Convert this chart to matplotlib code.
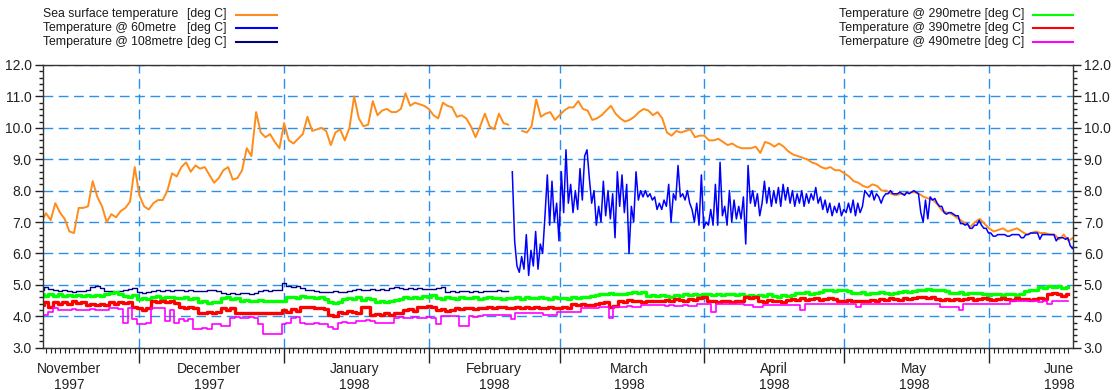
import numpy as np
import pandas as pd
import matplotlib
matplotlib.use("Agg")
import matplotlib.pyplot as plt
import matplotlib.dates as mdates
from matplotlib.lines import Line2D
from matplotlib.ticker import MultipleLocator, FormatStrFormatter

plt.rcParams['font.family'] = ['Liberation Sans', 'DejaVu Sans']

# daily values from 10 Nov 1997
start = pd.Timestamp('1997-11-10')
nan = np.nan

# Sea surface temperature (daily)
sst = [
    7.0, 7.28, 7.06, 7.6, 7.3, 7.1, 6.7, 6.65, 7.45, 7.45,
    7.5, 8.3, 7.8, 7.5, 7.0, 7.25, 7.15, 7.35, 7.45, 7.65,
    8.75, 7.85, 7.5, 7.4, 7.6, 7.7, 7.7, 8.0, 8.55, 8.45,
    8.75, 8.9, 8.6, 8.8, 8.7, 8.75, 8.5, 8.25, 8.4, 8.65,
    8.75, 8.35, 8.4, 8.65, 9.35, 9.1, 10.5, 9.85, 9.7, 9.8,
    9.55, 9.35, 10.15, 9.6, 9.5, 9.65, 9.8, 10.35, 9.9, 9.95,
    10.0, 9.9, 9.45, 9.85, 9.95, 9.6, 10.0, 11.0, 10.3, 10.05,
    10.1, 10.85, 10.4, 10.55, 10.6, 10.5, 10.5, 10.6, 11.1, 10.7,
    10.8, 10.75, 10.7, 10.6, 10.4, 10.3, 10.8, 10.7, 10.65, 10.35,
    10.4, 10.3, 10.05, 9.7, 10.05, 10.45, 10.05, 9.95, 10.45, 10.15,
    10.1, nan, nan, 9.9, 9.85, 10.05, 10.9, 10.35, 10.45, 10.5,
    10.25, 10.4, 10.55, 10.65, 10.65, 10.85, 10.6, 10.55, 10.25, 10.3,
    10.4, 10.55, 10.7, 10.45, 10.3, 10.2, 10.25, 10.35, 10.5, 10.6,
    10.55, 10.4, 10.5, 10.3, 9.85, 9.75, 9.9, 9.85, 9.9, 9.95,
    9.7, 9.75, 9.75, 9.6, 9.6, 9.65, 9.55, 9.45, 9.5, 9.4,
    9.35, 9.35, 9.35, 9.4, 9.2, 9.55, 9.5, 9.4, 9.5, 9.4,
    9.25, 9.15, 9.1, 9.05, 9.0, 8.9, 8.85, 8.75, 8.7, 8.75,
    8.65, 8.65, 8.55, 8.45, 8.3, 8.25, 8.15, 8.1, 8.2, 8.15,
    8.0, 8.0, 7.9, 7.85, 7.9, 7.9, 7.95, 7.95, 7.9, 7.8,
    7.75, 7.7, 7.55, 7.35, 7.3, 7.25, 7.15, 7.05, 6.95, 6.85,
    7.0, 7.1, 6.95, 6.8, 6.7, 6.75, 6.8, 6.7, 6.75, 6.8,
    6.7, 6.6, 6.65, 6.7, 6.65, 6.65, 6.6, 6.6, 6.45, 6.6,
    6.4, 6.5,
]

# Temperature @ 60metre (12-hourly, from 18 Feb 1998)
t60 = [
    8.6, 6.4, 5.6, 5.4, 5.9, 5.5, 6.6, 5.3, 6.1, 5.6, 6.7, 5.5, 6.3,
    6.0, 7.2, 8.5, 6.9, 8.3, 7.0, 7.6, 6.4, 8.6, 7.3, 9.3, 7.6,
    8.2, 7.3, 8.0, 7.4, 8.7, 7.7, 9.1, 9.3, 8.4, 7.6, 8.0, 6.9, 7.5, 7.0, 8.3,
    7.2, 8.0, 7.1, 7.9, 6.5, 8.6, 7.5, 8.5, 7.3, 8.2, 6.0, 7.5, 7.0, 8.6, 7.7,
    8.0, 7.8, 8.0, 7.8, 7.9, 7.7, 7.8, 7.4, 7.6, 7.4, 7.7, 7.5, 8.2, 7.0, 7.9,
    7.7, 8.8, 7.8, 7.9, 7.7, 8.0, 7.6, 7.4, 7.0, 7.6, 6.9, 8.5, 6.8, 7.0, 6.9,
    7.4, 6.9, 8.2, 6.9, 8.9, 7.2, 7.5, 6.9, 8.0, 7.0, 7.7, 7.1, 7.5, 7.1, 7.8,
    6.3, 8.8, 7.6, 8.0, 7.5, 7.9, 7.2, 7.6, 8.3, 7.6, 8.1, 7.5, 8.0, 7.6, 8.1,
    7.5, 8.2, 7.7, 8.1, 7.6, 8.0, 7.5, 7.9, 7.6, 8.0, 7.5, 7.9, 7.6, 7.9, 7.7,
    8.1, 7.6, 7.8, 7.4, 7.7, 7.3, 7.6, 7.2, 7.5, 7.3, 7.6, 7.2, 7.4, 7.3, 7.6,
    7.3, 7.7, 7.2, 7.6, 7.3, 7.5, 8.0, 7.9, 7.8, 8.0, 7.7, 7.9, 7.8, 7.6, 7.8,
    7.9, 7.9, 8.0, 7.9, 7.9, 7.9, 7.95, 7.9, 7.85, 7.95, 7.9, 7.95, 8.0, 7.95, 7.9,
    7.3, 7.0, 7.7, 7.1, 7.8, 7.7, 7.75, 7.6, 7.5, 7.5, 7.3, 7.25, 7.3, 7.3, 7.25,
    7.2, 7.2, 6.95, 6.95, 6.9, 6.95, 6.8, 6.8, 6.9, 6.9, 7.05, 6.9, 6.8, 6.8, 6.65,
    6.65, 6.55, 6.55, 6.6, 6.6, 6.6, 6.6, 6.55, 6.55, 6.6, 6.6, 6.6, 6.6, 6.5, 6.5,
    6.6, 6.6, 6.65, 6.65, 6.65, 6.65, 6.45, 6.6, 6.6, 6.6, 6.6, 6.6, 6.6, 6.4, 6.5,
    6.5, 6.5, 6.45, 6.5, 6.25, 6.15, 6.35,
]

# Temperature @ 108metre (daily, ends 18 Feb 1998)
t108 = [
    4.85, 4.92, 4.87, 4.85, 4.80, 4.83, 4.80, 4.78, 4.80, 4.80,
    4.85, 4.93, 4.95, 4.90, 4.82, 4.80, 4.78, 4.80, 4.83, 4.88,
    4.90, 4.78, 4.75, 4.78, 4.80, 4.83, 4.80, 4.85, 4.80, 4.83,
    4.85, 4.80, 4.83, 4.80, 4.82, 4.80, 4.83, 4.85, 4.80, 4.75,
    4.72, 4.73, 4.72, 4.75, 4.73, 4.72, 4.75, 4.82, 4.85, 4.80,
    4.83, 4.85, 5.05, 4.95, 4.92, 4.95, 4.90, 4.85, 4.83, 4.80,
    4.78, 4.76, 4.78, 4.80, 4.78, 4.76, 4.80, 4.85, 4.87, 4.83,
    4.85, 4.87, 4.85, 4.88, 4.85, 4.90, 4.93, 4.90, 4.88, 4.90,
    4.88, 4.90, 4.88, 4.86, 4.88, 4.90, 4.93, 4.78, 4.80, 4.78,
    4.80, 4.82, 4.78, 4.80, 4.78, 4.80, 4.82, 4.80, 4.83, 4.80,
    4.80,
]

# Temperature @ 290metre (daily)
t290 = [
    4.7, 4.65, 4.72, 4.65, 4.7, 4.65, 4.68, 4.63, 4.67, 4.65,
    4.68, 4.65, 4.67, 4.63, 4.7, 4.75, 4.78, 4.72, 4.65, 4.62,
    4.68, 4.55, 4.57, 4.55, 4.6, 4.63, 4.58, 4.62, 4.6, 4.58,
    4.57, 4.6, 4.55, 4.57, 4.45, 4.48, 4.43, 4.47, 4.45, 4.58,
    4.6, 4.55, 4.58, 4.5, 4.52, 4.5, 4.5, 4.52, 4.5, 4.5,
    4.5, 4.5, 4.5, 4.6, 4.62, 4.58, 4.63, 4.6, 4.62, 4.58,
    4.6, 4.55, 4.45, 4.43, 4.47, 4.55, 4.58, 4.55, 4.6, 4.53,
    4.57, 4.55, 4.45, 4.48, 4.45, 4.5, 4.52, 4.55, 4.6, 4.57,
    4.6, 4.58, 4.65, 4.62, 4.67, 4.58, 4.55, 4.6, 4.57, 4.55,
    4.6, 4.58, 4.57, 4.6, 4.55, 4.58, 4.6, 4.57, 4.58, 4.55,
    4.57, 4.58, 4.6, 4.55, 4.6, 4.58, 4.57, 4.6, 4.58, 4.55,
    4.6, 4.58, 4.57, 4.55, 4.6, 4.58, 4.62, 4.6, 4.65, 4.67,
    4.7, 4.72, 4.75, 4.7, 4.72, 4.7, 4.73, 4.78, 4.75, 4.77,
    4.65, 4.68, 4.63, 4.67, 4.65, 4.62, 4.67, 4.65, 4.7, 4.67,
    4.72, 4.68, 4.7, 4.72, 4.67, 4.7, 4.68, 4.72, 4.7, 4.67,
    4.7, 4.65, 4.68, 4.63, 4.67, 4.65, 4.7, 4.65, 4.62, 4.67,
    4.65, 4.68, 4.75, 4.73, 4.77, 4.72, 4.75, 4.78, 4.83, 4.85,
    4.8, 4.83, 4.85, 4.82, 4.75, 4.73, 4.77, 4.72, 4.75, 4.73,
    4.77, 4.75, 4.72, 4.75, 4.78, 4.8, 4.77, 4.8, 4.85, 4.83,
    4.87, 4.85, 4.83, 4.85, 4.82, 4.75, 4.73, 4.77, 4.72, 4.75,
    4.73, 4.75, 4.7, 4.68, 4.72, 4.7, 4.68, 4.72, 4.7, 4.68,
    4.7, 4.82, 4.85, 4.83, 4.93, 4.9, 4.95, 4.92, 4.95, 4.9,
    4.93,
]

# Temperature @ 390metre (daily)
t390 = [
    4.35, 4.45, 4.3, 4.45, 4.38, 4.45, 4.4, 4.5, 4.42, 4.47,
    4.35, 4.38, 4.35, 4.4, 4.35, 4.45, 4.4, 4.47, 4.43, 4.45,
    4.3, 4.25, 4.2, 4.25, 4.5, 4.47, 4.5, 4.45, 4.48, 4.43,
    4.3, 4.25, 4.28, 4.25, 4.1, 4.12, 4.15, 4.1, 4.15, 4.25,
    4.2, 4.25, 4.1, 4.12, 4.1, 4.1, 4.12, 4.1, 4.12, 4.1,
    4.1, 4.12, 4.2, 4.15, 4.22, 4.18, 4.3, 4.28, 4.3, 4.25,
    4.25, 4.22, 4.05, 4.02, 4.15, 4.12, 4.18, 4.15, 4.12, 4.3,
    4.28, 4.05, 4.08, 4.05, 4.1, 4.05, 4.1, 4.12, 4.2, 4.22,
    4.18, 4.3, 4.28, 4.32, 4.3, 4.2, 4.22, 4.18, 4.2, 4.25,
    4.22, 4.27, 4.25, 4.23, 4.27, 4.27, 4.3, 4.25, 4.28, 4.3,
    4.25, 4.27, 4.3, 4.25, 4.28, 4.25, 4.3, 4.27, 4.25, 4.3,
    4.27, 4.25, 4.28, 4.27, 4.38, 4.35, 4.4, 4.37, 4.35, 4.4,
    4.42, 4.45, 4.3, 4.32, 4.5, 4.47, 4.52, 4.48, 4.5, 4.47,
    4.5, 4.5, 4.5, 4.48, 4.53, 4.5, 4.55, 4.52, 4.5, 4.55,
    4.53, 4.57, 4.6, 4.48, 4.5, 4.47, 4.5, 4.48, 4.45, 4.5,
    4.48, 4.6, 4.58, 4.62, 4.5, 4.47, 4.52, 4.48, 4.5, 4.47,
    4.52, 4.55, 4.52, 4.57, 4.53, 4.55, 4.58, 4.53, 4.55, 4.57,
    4.55, 4.5, 4.5, 4.52, 4.5, 4.5, 4.5, 4.5, 4.52, 4.5,
    4.55, 4.52, 4.57, 4.55, 4.53, 4.57, 4.55, 4.58, 4.6, 4.62,
    4.58, 4.62, 4.55, 4.52, 4.55, 4.53, 4.55, 4.52, 4.55, 4.57,
    4.53, 4.55, 4.57, 4.55, 4.52, 4.55, 4.57, 4.55, 4.53, 4.57,
    4.55, 4.55, 4.53, 4.55, 4.58, 4.55, 4.7, 4.75, 4.72, 4.65,
    4.7,
]

# Temperature @ 490metre (daily)
t490 = [
    4.05, 4.03, 4.15, 4.25, 4.2, 4.2, 4.2, 4.22, 4.2, 4.2,
    4.2, 4.22, 4.2, 4.2, 4.2, 4.25, 4.25, 4.22, 3.8, 4.25,
    3.9, 3.75, 3.75, 3.8, 4.25, 4.25, 4.25, 3.85, 4.2, 3.8,
    3.9, 3.85, 3.9, 3.6, 3.6, 3.62, 3.6, 3.75, 3.75, 3.7,
    3.7, 3.95, 3.97, 3.95, 3.95, 3.97, 3.95, 3.75, 3.45, 3.45,
    3.45, 3.45, 3.75, 3.78, 3.95, 3.97, 3.8, 3.75, 3.75, 3.78,
    3.75, 3.75, 3.65, 3.6, 3.8, 3.82, 3.8, 3.8, 3.85, 3.85,
    3.87, 3.85, 3.8, 3.8, 3.8, 3.8, 3.95, 3.97, 3.95, 3.95,
    3.97, 3.95, 3.95, 3.97, 3.95, 3.75, 4.0, 4.0, 4.0, 4.02,
    3.7, 3.7, 4.0, 3.98, 4.0, 4.05, 4.05, 4.05, 4.05, 4.05,
    4.05, 3.9, 4.1, 4.1, 4.1, 4.1, 4.1, 4.1, 4.05, 4.05,
    4.05, 4.15, 4.15, 4.15, 4.15, 4.15, 4.27, 4.27, 4.25, 4.27,
    4.3, 4.3, 3.95, 4.3, 4.28, 4.3, 4.32, 4.3, 4.3, 4.35,
    4.35, 4.35, 4.35, 4.35, 4.33, 4.35, 4.32, 4.33, 4.35, 4.33,
    4.33, 4.4, 4.4, 4.4, 4.15, 4.4, 4.4, 4.4, 4.4, 4.4,
    4.4, 4.35, 4.35, 4.3, 4.3, 4.35, 4.37, 4.37, 4.37, 4.35,
    4.37, 4.37, 4.37, 4.2, 4.4, 4.4, 4.4, 4.4, 4.4, 4.4,
    4.4, 4.4, 4.4, 4.4, 4.4, 4.3, 4.4, 4.4, 4.4, 4.4,
    4.4, 4.4, 4.4, 4.4, 4.4, 4.4, 4.4, 4.4, 4.4, 4.4,
    4.4, 4.4, 4.4, 4.3, 4.3, 4.3, 4.3, 4.2, 4.4, 4.4,
    4.4, 4.4, 4.4, 4.4, 4.4, 4.4, 4.4, 4.4, 4.48, 4.48,
    4.48, 4.48, 4.48, 4.48, 4.45, 4.48, 4.4, 4.5, 4.5, 4.5,
    4.5,
]

names_left = ['Sea surface temperature', 'Temperature @ 60metre', 'Temperature @ 108metre']
names_right = ['Temperature @ 290metre [deg C]', 'Temperature @ 390metre [deg C]',
               'Temerpature @ 490metre [deg C]']
unit = '[deg C]'
colors_left = ['#ff8c1a', '#0000ff', '#000080']
colors_right = ['#00ff00', '#ff0000', '#ff00ff']
month_labels = ['November\n1997', 'December\n1997', 'January\n1998', 'February\n1998',
                'March\n1998', 'April\n1998', 'May\n1998', 'June\n1998']
month_mid = pd.to_datetime(['1997-11-16', '1997-12-16', '1998-01-16', '1998-02-15',
                            '1998-03-16', '1998-04-16', '1998-05-16', '1998-06-16'])
month_start = pd.date_range('1997-12-01', '1998-06-01', freq='MS')

days_sst = pd.date_range(start, periods=len(sst), freq='D')
days_60 = pd.date_range('1998-02-18 21:00', periods=len(t60), freq='12h')
days_108 = pd.date_range(start, periods=len(t108), freq='D')
days_deep = pd.date_range(start, periods=len(t290), freq='D')

W, H = 1115, 390
fig = plt.figure(figsize=(W / 100, H / 100), dpi=100)
ax = fig.add_axes([0.0383, 0.1085, 0.9238, 0.7249])

ax.plot(days_sst, sst, color=colors_left[0], lw=1.4)
ax.plot(days_60, t60, color=colors_left[1], lw=1.1)
ax.plot(days_108, t108, color=colors_left[2], lw=1.0, drawstyle='steps-mid')
ax.plot(days_deep, t290, color=colors_right[0], lw=2.4, drawstyle='steps-mid')
ax.plot(days_deep, t390, color=colors_right[1], lw=2.4, drawstyle='steps-mid')
ax.plot(days_deep, t490, color=colors_right[2], lw=1.2, drawstyle='steps-mid')

ax.set_xlim(start + pd.Timedelta(hours=7), pd.Timestamp('1998-06-18 22:00'))
ax.set_ylim(3.0, 12.0)

ax.yaxis.set_major_locator(MultipleLocator(1.0))
ax.yaxis.set_minor_locator(MultipleLocator(0.2))
ax.yaxis.set_major_formatter(FormatStrFormatter('%.1f'))
ax.tick_params(axis='y', which='both', direction='out', left=True, right=True,
               labelleft=True, labelright=True, labelsize=10, colors='#222222', width=1)
ax.tick_params(axis='y', which='major', length=6, pad=2)
ax.tick_params(axis='y', which='minor', length=3)

ax.set_xticks(month_start)
ax.xaxis.set_minor_locator(mdates.DayLocator())
ax.tick_params(axis='x', which='major', direction='out', length=11, labelbottom=False, width=1, color='#222222')
ax.tick_params(axis='x', which='minor', direction='out', length=3.5, width=0.8, color='#222222')

ax.grid(True, which='major', color='#2b8ff0', linestyle=(0, (7, 4)), lw=1.0)
for sp in ax.spines.values():
    sp.set_color('#333333')
    sp.set_linewidth(1.0)
    sp.set_zorder(5)

sec = ax.secondary_xaxis('bottom')
sec.set_xticks(month_mid, labels=month_labels)
sec.tick_params(length=0, pad=10, labelsize=10, colors='#222222')
sec.spines['bottom'].set_visible(False)

# legend rows drawn above the plot, as in the original layout
rows_y = [14.5, 28.2, 41.9]
for name, col, yy in zip(names_left, colors_left, rows_y):
    fy = 1 - yy / H
    fig.text(43 / W, fy, name, fontsize=8.8, color='#1a1a1a', va='center', ha='left')
    fig.text(187 / W, fy, unit, fontsize=8.8, color='#1a1a1a', va='center', ha='left')
    fig.add_artist(Line2D([236 / W, 277 / W], [fy, fy], color=col, lw=1.5,
                          transform=fig.transFigure))
for name, col, yy in zip(names_right, colors_right, rows_y):
    fy = 1 - yy / H
    fig.text(1024 / W, fy, name, fontsize=8.9, color='#1a1a1a', va='center', ha='right')
    fig.add_artist(Line2D([1033 / W, 1073 / W], [fy, fy], color=col, lw=1.5,
                          transform=fig.transFigure))

fig.savefig('out.png', dpi=100)
